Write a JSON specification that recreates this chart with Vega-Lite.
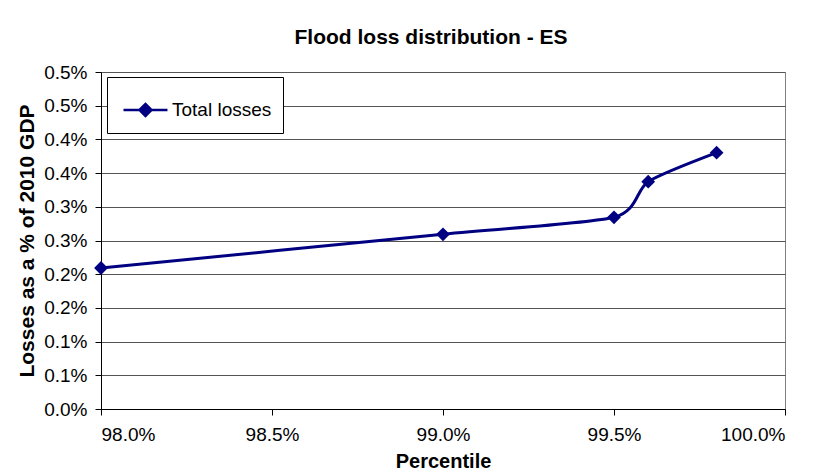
{
  "$schema": "https://vega.github.io/schema/vega-lite/v6.json",
  "autosize": "none",
  "width": 684,
  "height": 337,
  "padding": {"left": 101, "top": 72, "right": 34, "bottom": 64},
  "background": "white",
  "title": {
    "text": "Flood loss distribution - ES",
    "font": "Liberation Sans",
    "fontSize": 21,
    "fontWeight": "bold",
    "color": "black",
    "anchor": "middle",
    "baseline": "bottom",
    "offset": -6,
    "dx": -12
  },
  "data": {
    "values": [
      {"percentile": 0.98, "loss": 0.002092, "series": "Total losses"},
      {"percentile": 0.99, "loss": 0.002592, "series": "Total losses"},
      {"percentile": 0.995, "loss": 0.002844, "series": "Total losses"},
      {"percentile": 0.996, "loss": 0.003373, "series": "Total losses"},
      {"percentile": 0.998, "loss": 0.003803, "series": "Total losses"}
    ]
  },
  "mark": {
    "type": "line",
    "interpolate": "cardinal",
    "tension": 0.3,
    "strokeWidth": 3,
    "point": {"shape": "diamond", "size": 190, "filled": true, "opacity": 1}
  },
  "encoding": {
    "x": {
      "field": "percentile",
      "type": "quantitative",
      "scale": {"domain": [0.98, 1.0], "nice": false, "zero": false},
      "axis": {
        "title": "Percentile",
        "values": [0.98, 0.985, 0.99, 0.995, 1.0],
        "format": ".1%",
        "grid": false,
        "labelPadding": 10,
        "titlePadding": 7,
        "titleFontSize": 20
      }
    },
    "y": {
      "field": "loss",
      "type": "quantitative",
      "scale": {"domain": [0, 0.005], "nice": false},
      "axis": {
        "title": "Losses as a % of 2010 GDP",
        "values": [0, 0.0005, 0.001, 0.0015, 0.002, 0.0025, 0.003, 0.0035, 0.004, 0.0045, 0.005],
        "labelExpr": "format(round(datum.value*1000+0.000001)/1000, '.1%')",
        "grid": true,
        "labelPadding": 8,
        "titlePadding": 6,
        "titleFontSize": 21
      }
    },
    "color": {
      "field": "series",
      "type": "nominal",
      "scale": {"range": ["#000080"]},
      "legend": {
        "title": null,
        "orient": "none",
        "legendX": 6,
        "legendY": 5,
        "padding": 11,
        "strokeColor": "black",
        "fillColor": "white",
        "symbolType": "M-0.805,0H1.341M-0.025,0L0.268,-0.293L0.561,0L0.268,0.293Z",
        "symbolSize": 1681,
        "symbolStrokeWidth": 2.5,
        "symbolFillColor": "#000080",
        "symbolStrokeColor": "#000080",
        "labelOffset": 10,
        "labelFontSize": 19,
        "labelFont": "Liberation Sans",
        "labelColor": "black"
      }
    }
  },
  "config": {
    "font": "Liberation Sans",
    "view": {"stroke": "#808080", "strokeWidth": 1},
    "axis": {
      "labelFont": "Liberation Sans",
      "labelFontSize": 19,
      "labelColor": "black",
      "titleFont": "Liberation Sans",
      "titleFontWeight": "bold",
      "titleColor": "black",
      "domainColor": "black",
      "domainWidth": 1,
      "tickColor": "black",
      "tickSize": 6,
      "gridColor": "#555555",
      "gridWidth": 1
    },
    "legend": {"labelFont": "Liberation Sans"}
  }
}
